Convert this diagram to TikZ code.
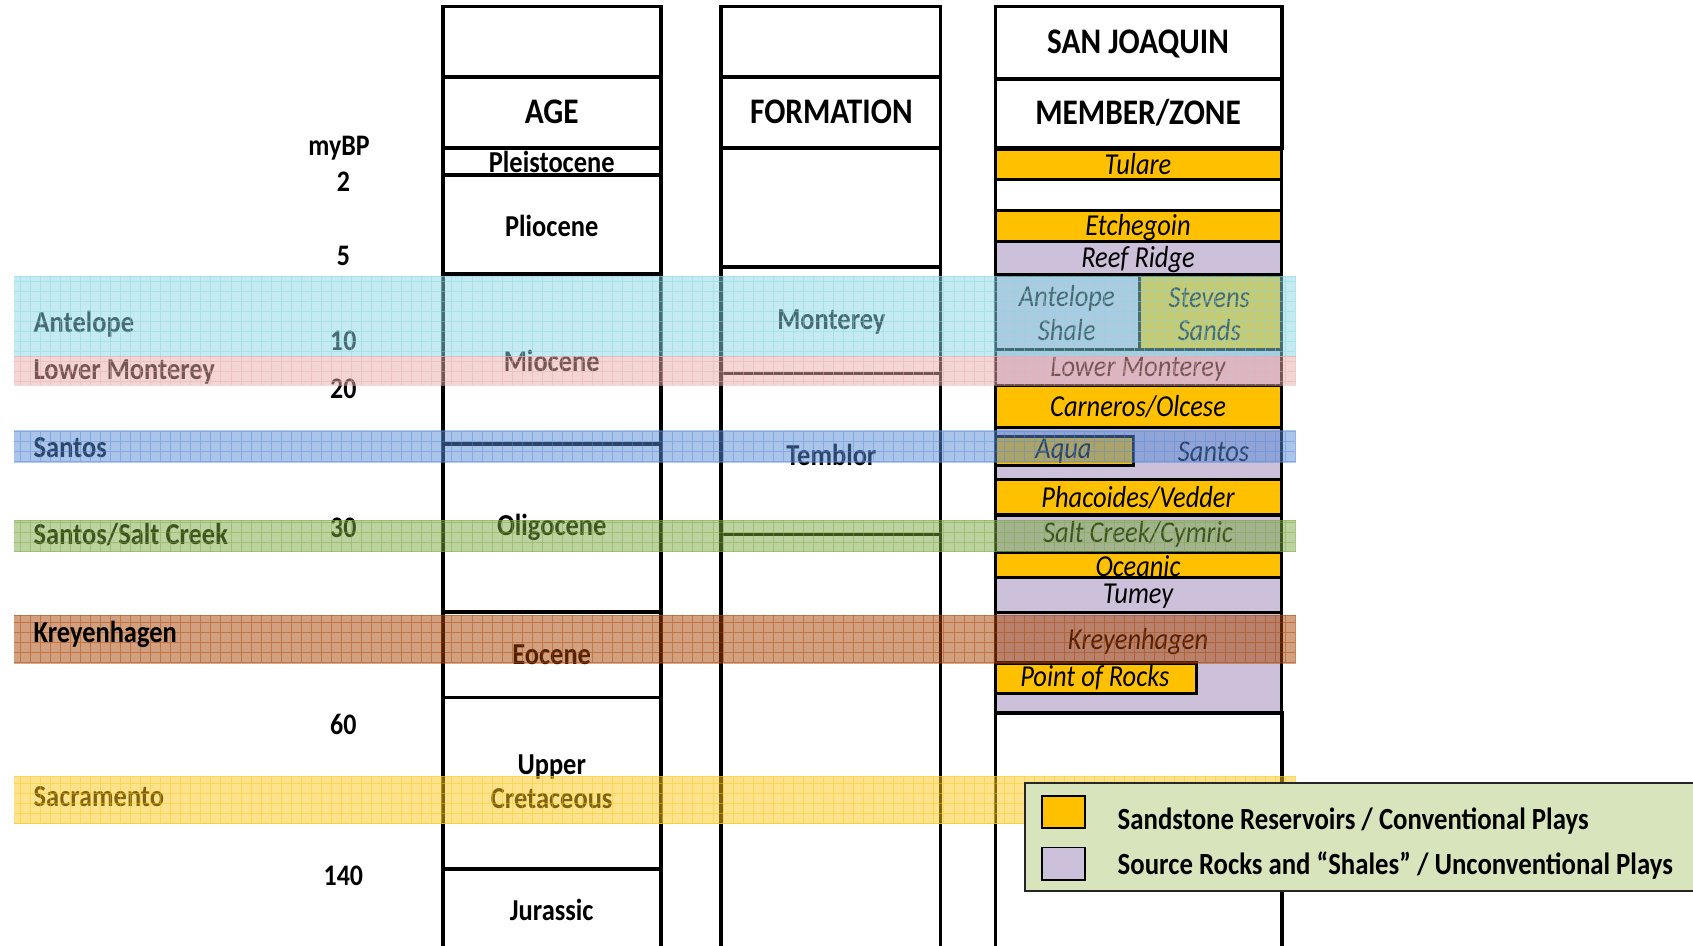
\documentclass[tikz,border=0pt]{standalone}
\usepackage{fontspec}
\setmainfont{Carlito}
\definecolor{sand}{HTML}{FFC000}
\definecolor{srck}{HTML}{CCC0DA}
\definecolor{legbg}{HTML}{D8E4BC}
\definecolor{antc}{HTML}{8AD6E6}
\definecolor{pinkc}{HTML}{EBADAD}
\definecolor{bluec}{HTML}{578AD6}
\definecolor{greenc}{HTML}{7AA842}
\definecolor{brownc}{HTML}{A84200}
\definecolor{yellc}{HTML}{FFC71A}
\newcommand{\tall}[1]{\scalebox{1}[1.15]{#1}}
\tikzset{
  colline/.style={draw=black, line width=3.5pt, fill=white},
  sandbox/.style={draw=black, line width=3pt, fill=sand},
  srcbox/.style={draw=black, line width=3pt, fill=srck},
  hdr/.style={font=\fontsize{29}{32}\selectfont\bfseries, inner sep=0pt},
  agetxt/.style={font=\fontsize{24.5}{28}\selectfont\bfseries, inner sep=0pt},
  memtxt/.style={font=\fontsize{24.5}{28}\selectfont\itshape, inner sep=0pt, align=center},
  bandtxt/.style={font=\fontsize{24.5}{28}\selectfont\bfseries, anchor=west, inner sep=0pt},
  numtxt/.style={font=\fontsize{24}{28}\selectfont\bfseries, inner sep=0pt},
  legtxt/.style={font=\fontsize{24.8}{28}\selectfont\bfseries, anchor=west, inner sep=0pt},
  bandfill/.style={fill=#1, fill opacity=0.5, draw=none},
  bandgrid/.style={draw=#1, opacity=0.45, line width=0.8pt}
}
\newcommand{\bandrect}[3]{%
  \fill[bandfill=#1] (13,#2) rectangle (1200,#3);
  \begin{scope}
    \clip (13,#2) rectangle (1200,#3);
    \draw[bandgrid=#1, step=9.3pt] (13,#2) grid (1200,#3);
  \end{scope}
  \draw[bandgrid=#1] (13,#2) -- (1200,#2) (13,#3) -- (1200,#3);
}
\begin{document}
\begin{tikzpicture}[x=1pt,y=-1pt]
\useasboundingbox (0,0) rectangle (1568,876);
\clip (0,0) rectangle (1568,876);
\fill[white] (0,0) rectangle (1568,876);

% AGE column
\draw[colline] (410,6) rectangle (612,71);
\draw[colline] (410,71) rectangle (612,137);
\draw[colline] (410,137) rectangle (612,162);
\draw[colline] (410,162) rectangle (612,254);
\draw[colline] (410,254) rectangle (612,411);
\draw[colline] (410,411) rectangle (612,567);
\draw[colline] (410,567) rectangle (612,646);
\draw[colline] (410,646) rectangle (612,805);
\draw[colline] (410,805) rectangle (612,900);

% FORMATION column
\draw[colline] (668,6) rectangle (871,71);
\draw[colline] (668,71) rectangle (871,137);
\draw[colline] (668,137) rectangle (871,247);
\draw[colline] (668,247) rectangle (871,346);
\draw[colline] (668,346) rectangle (871,495);
\draw[colline] (668,495) rectangle (871,900);

% SAN JOAQUIN column
\draw[colline] (922,6) rectangle (1187,73);
\draw[colline] (922,73) rectangle (1187,137);
\draw[sandbox] (922,138) rectangle (1187,166);
\draw[colline, line width=3pt] (922,166) rectangle (1187,195);
\draw[sandbox] (922,195) rectangle (1187,224);
\draw[srcbox] (922,224) rectangle (1187,254);
\draw[srcbox] (922,255) rectangle (1055,324);
\draw[sandbox] (1055,255) rectangle (1187,324);
\draw[srcbox] (922,324) rectangle (1187,357);
\draw[sandbox] (922,357) rectangle (1187,396);
\draw[srcbox] (922,396) rectangle (1187,444);
\draw[sandbox] (922,404) rectangle (1050,431);
\draw[sandbox] (922,444) rectangle (1187,477);
\draw[srcbox] (922,477) rectangle (1187,512);
\draw[sandbox] (922,512) rectangle (1187,535);
\draw[srcbox] (922,535) rectangle (1187,567);
\draw[srcbox] (922,567) rectangle (1187,660);
\draw[sandbox] (922,614) rectangle (1108,642);
\draw[colline] (922,660) rectangle (1187,900);

% headers
\node[hdr] (hage) at (511,104) {\tall{AGE}};
\node[hdr] (hform) at (770,104) {\tall{FORMATION}};
\node[hdr] (hsj) at (1054,41) {\tall{SAN JOAQUIN}};
\node[hdr] (hmem) at (1054,104) {\tall{MEMBER/ZONE}};

% ages
\node[agetxt] (pleis) at (511,150) {\tall{Pleistocene}};
\node[agetxt] (plio) at (511,209) {\tall{Pliocene}};
\node[agetxt] (mio) at (511,334) {\tall{Miocene}};
\node[agetxt] (oligo) at (511,488) {\tall{Oligocene}};
\node[agetxt] (eoc) at (511,606) {\tall{Eocene}};
\node[agetxt] (upper) at (511,710) {\tall{Upper}};
\node[agetxt] (cret) at (511,740) {\tall{Cretaceous}};
\node[agetxt] (jur) at (511,843) {\tall{Jurassic}};

% formations
\node[agetxt] (mont) at (770,298) {\tall{Monterey}};
\node[agetxt] (temb) at (770,421) {\tall{Temblor}};

% members
\node[memtxt] (tul) at (1054,152) {\tall{Tulare}};
\node[memtxt] (etch) at (1054,211) {\tall{Etchegoin}};
\node[memtxt] (reef) at (1054,240) {\tall{Reef Ridge}};
\node[memtxt] (antsh) at (988,276) {\tall{Antelope}};
\node[memtxt] (antsh2) at (988,306) {\tall{Shale}};
\node[memtxt] (stev) at (1120,276) {\tall{Stevens}};
\node[memtxt] (stev2) at (1120,306) {\tall{Sands}};
\node[memtxt] (lmon) at (1054,342) {\tall{Lower Monterey}};
\node[memtxt] (carn) at (1054,377) {\tall{Carneros/Olcese}};
\node[memtxt] (aqua) at (985,418) {\tall{Aqua}};
\node[memtxt] (sant) at (1124,418) {\tall{Santos}};
\node[memtxt] (phac) at (1054,461) {\tall{Phacoides/Vedder}};
\node[memtxt] (salt) at (1054,495) {\tall{Salt Creek/Cymric}};
\node[memtxt] (ocea) at (1054,524) {\tall{Oceanic}};
\node[memtxt] (tum) at (1054,552) {\tall{Tumey}};
\node[memtxt] (krey) at (1054,594) {\tall{Kreyenhagen}};
\node[memtxt] (por) at (1014,628) {\tall{Point of Rocks}};

% myBP scale
\node[numtxt] (mybp) at (314,137) {\tall{myBP}};
\node[numtxt] (n2) at (318,168) {\tall{2}};
\node[numtxt] (n5) at (318,237) {\tall{5}};
\node[numtxt] (n10) at (318,316) {\tall{10}};
\node[numtxt] (n20) at (318,360) {\tall{20}};
\node[numtxt] (n30) at (318,489) {\tall{30}};
\node[numtxt] (n60) at (318,671) {\tall{60}};
\node[numtxt] (n140) at (318,811) {\tall{140}};

% band labels (under the bands)
\node[bandtxt] (lant) at (31,300) {\tall{Antelope}};
\node[bandtxt] (llm) at (31,345) {\tall{Lower Monterey}};
\node[bandtxt] (lsan) at (31,415) {\tall{Santos}};
\node[bandtxt] (lssc) at (31,495) {\tall{Santos/Salt Creek}};
\node[bandtxt] (lsac) at (31,738) {\tall{Sacramento}};

% bands
\bandrect{antc}{256}{330}
\bandrect{pinkc}{330}{357}
\bandrect{bluec}{399}{428}
\bandrect{greenc}{482}{511}
\bandrect{brownc}{570}{614}
\bandrect{yellc}{719}{763}

\node[bandtxt] (lkre) at (31,588) {\tall{Kreyenhagen}};

% legend
\draw[fill=legbg, draw=black!85, line width=1.6pt] (949,725) rectangle (1600,825);
\node[draw=black, line width=1.6pt, fill=sand, minimum width=40pt, minimum height=30pt, inner sep=0pt] (swsand) at (985,752) {};
\node[draw=black, line width=1.6pt, fill=srck, minimum width=40pt, minimum height=30pt, inner sep=0pt] (swsrc) at (985,800) {};
\node[legtxt] (legsand) at (1035,760) {\tall{Sandstone Reservoirs / Conventional Plays}};
\node[legtxt] (legsrc) at (1035,802) {\tall{Source Rocks and “Shales” / Unconventional Plays}};
\end{tikzpicture}
\end{document}
